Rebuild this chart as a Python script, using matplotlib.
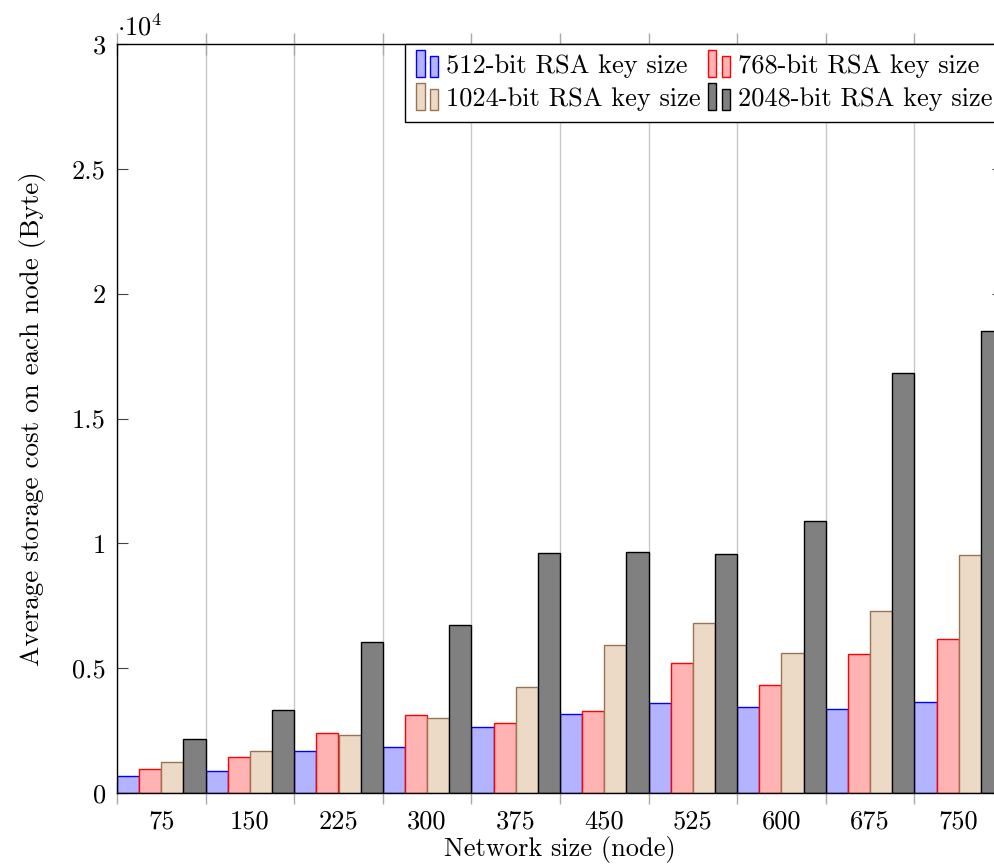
import matplotlib
matplotlib.use("Agg")
import matplotlib.pyplot as plt
from matplotlib.patches import Rectangle
from matplotlib.legend_handler import HandlerBase
from matplotlib.ticker import FixedLocator, FuncFormatter
import numpy as np

plt.rcParams['font.family'] = 'serif'
plt.rcParams['font.serif'] = ['cmr10']
plt.rcParams['mathtext.fontset'] = 'cm'
plt.rcParams['axes.unicode_minus'] = False
plt.rcParams['axes.formatter.use_mathtext'] = True

categories = ["75", "150", "225", "300", "375", "450", "525", "600", "675", "750"]
series_names = ["512-bit RSA key size", "768-bit RSA key size",
                "1024-bit RSA key size", "2048-bit RSA key size"]
rsa512 = [680, 900, 1680, 1850, 2650, 3160, 3590, 3440, 3350, 3650]
rsa768 = [970, 1450, 2410, 3130, 2810, 3300, 5190, 4310, 5550, 6160]
rsa1024 = [1260, 1670, 2330, 3000, 4230, 5930, 6820, 5600, 7300, 9550]
rsa2048 = [2160, 3310, 6040, 6740, 9630, 9660, 9580, 10910, 16830, 18490]
yticks = [0, 5000, 10000, 15000, 20000, 25000, 30000]

fills = ["#b3b3ff", "#ffb3b3", "#ecd9c6", "#808080"]
edges = ["#0000ff", "#ff0000", "#9a7452", "#000000"]

fig = plt.figure(figsize=(9.95, 8.66), dpi=100)
W, H = 995, 866
ax = fig.add_axes([117 / W, (H - 793) / H, (1003 - 117) / W, (793 - 44) / H])

x = np.arange(len(categories))
bw = 0.25
data = [rsa512, rsa768, rsa1024, rsa2048]
handles = []
for k, vals in enumerate(data):
    b = ax.bar(x + (k - 1.5) * bw, vals, width=bw, color=fills[k], edgecolor=edges[k],
               linewidth=1.0, label=series_names[k], zorder=3)
    handles.append(b.patches[0])

ax.set_xlim(-0.5, len(categories) - 0.5)
ax.set_ylim(0, 30000)

fs = 19
ax.set_xticks(x)
ax.set_xticklabels(categories, fontsize=fs)
ax.tick_params(axis='x', which='major', length=0, pad=12)
ax.xaxis.set_minor_locator(FixedLocator(np.arange(-0.5, len(categories), 1.0)))
ax.tick_params(axis='x', which='minor', direction='inout', length=16, color='#aaaaaa',
               top=True, bottom=True, width=1.0)
ax.grid(True, which='minor', axis='x', color='#c8c8c8', linewidth=1.0, zorder=0)

ax.set_yticks(yticks)
ax.yaxis.set_major_formatter(FuncFormatter(lambda v, p: "%g" % (v / 1e4)))
ax.tick_params(axis='y', direction='in', length=8, left=True, right=True, labelsize=fs,
               color='#444444', pad=8)

for s in ax.spines.values():
    s.set_linewidth(1.0)
    s.set_zorder(5)

ax.text(0.0, 1.005, r"$\cdot 10^4$", transform=ax.transAxes, fontsize=fs,
        ha='left', va='bottom')

ax.set_xlabel("Network size (node)", fontsize=fs, labelpad=2)
ax.set_ylabel("Average storage cost on each node (Byte)", fontsize=19.5, labelpad=19)


class TwoBarHandler(HandlerBase):
    def create_artists(self, legend, orig_handle, xdescent, ydescent, width, height,
                       fontsize, trans):
        fc = orig_handle.get_facecolor()
        ec = orig_handle.get_edgecolor()
        bwid = width * 0.38
        gap = width * 0.24
        y0 = -ydescent - height * 0.2
        r1 = Rectangle((-xdescent, y0), bwid, height * 1.45,
                       facecolor=fc, edgecolor=ec, lw=1.0, transform=trans)
        r2 = Rectangle((-xdescent + bwid + gap, y0), bwid, height * 1.12,
                       facecolor=fc, edgecolor=ec, lw=1.0, transform=trans)
        return [r1, r2]


# row-wise order: 512, 768 on first row; 1024, 2048 on second row
order = [0, 2, 1, 3]
leg = ax.legend(handles=[handles[i] for i in order],
                labels=[series_names[i] for i in order], ncol=2, loc='upper right',
                bbox_to_anchor=(1.0, 1.0), borderaxespad=0.0, fontsize=fs,
                handler_map={h: TwoBarHandler() for h in handles},
                handlelength=0.85, handletextpad=0.3, columnspacing=0.25,
                labelspacing=0.35, borderpad=0.4, fancybox=False, framealpha=1.0,
                edgecolor='black')
leg.get_frame().set_linewidth(1.0)
leg.set_zorder(10)

fig.savefig("out.png", dpi=100)
